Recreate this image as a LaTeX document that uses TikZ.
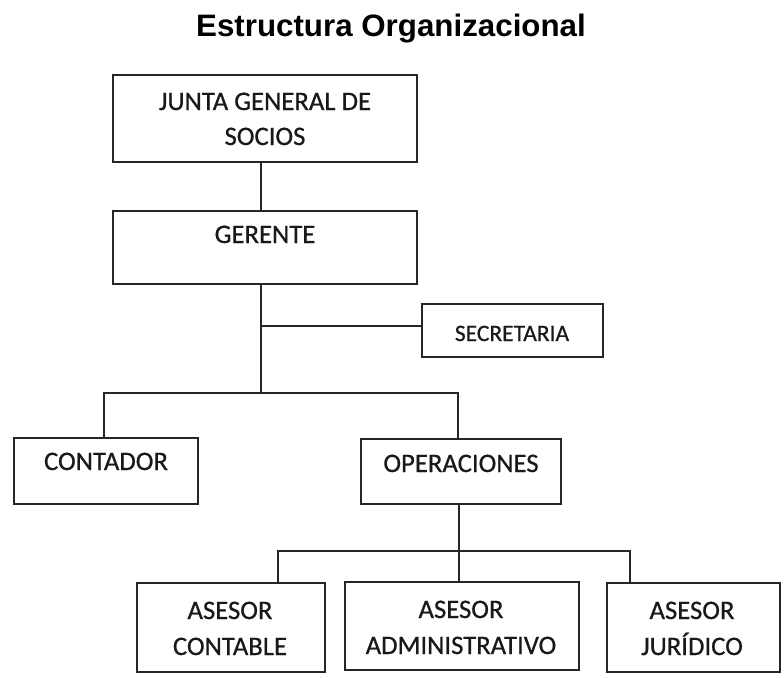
\documentclass[tikz,border=0pt]{standalone}
\usepackage{fontspec}
\usepackage{graphicx}
\setmainfont{Carlito}[RawFeature={embolden=0.7}]
\newfontfamily\titlefont{Liberation Sans}
\begin{document}
\begin{tikzpicture}[x=1pt,y=-1pt,
  box/.style={draw=black!85, line width=2pt, inner sep=0pt},
  lbl/.style={anchor=base, inner sep=0pt, font=\fontsize{26.7}{32}\selectfont, text=black!90},
  small/.style={font=\fontsize{23.5}{28}\selectfont},
  conn/.style={draw=black!85, line width=2pt},
]
\useasboundingbox (0,0) rectangle (784,677);
% title
\node[anchor=base, inner sep=0pt] (title) at (391,37)
  {\titlefont\bfseries\fontsize{31}{36}\selectfont\scalebox{1.01}[1]{Estructura Organizacional}};
% boxes
\node[box, minimum width=304, minimum height=87] (junta) at (265,118.5) {};
\node[box, minimum width=304, minimum height=73] (gerente) at (265,247.5) {};
\node[box, minimum width=181, minimum height=53] (secretaria) at (512.5,330.5) {};
\node[box, minimum width=184, minimum height=66] (contador) at (106,471) {};
\node[box, minimum width=200, minimum height=65] (operaciones) at (461,471.5) {};
\node[box, minimum width=188, minimum height=89] (contable) at (231,627.5) {};
\node[box, minimum width=234, minimum height=88] (admin) at (462,626) {};
\node[box, minimum width=173, minimum height=89] (juridico) at (693.5,627.5) {};
% labels
\node[lbl] (t1) at (265,110) {JUNTA GENERAL DE};
\node[lbl] (t2) at (265,145) {SOCIOS};
\node[lbl] (t3) at (265,243) {GERENTE};
\node[lbl, small] (t4) at (512,341) {SECRETARIA};
\node[lbl] (t5) at (106,470) {CONTADOR};
\node[lbl] (t6) at (461,472) {OPERACIONES};
\node[lbl] (t7) at (230,619) {ASESOR};
\node[lbl] (t8) at (230,655) {CONTABLE};
\node[lbl] (t9) at (461,618) {ASESOR};
\node[lbl] (t10) at (461,654) {ADMINISTRATIVO};
\node[lbl] (t11) at (692,619) {ASESOR};
\node[lbl] (t12) at (692,655) {JURÍDICO};
% connector coordinates
\coordinate (mx) at (261,0);
\coordinate (sj) at (261,326);
\coordinate (hub) at (261,393);
\coordinate (hl) at (104,393);
\coordinate (hr) at (458,393);
\coordinate (ov) at (459,551);
\coordinate (ll) at (278,551);
\coordinate (lr) at (630,551);
% connectors
\draw[conn] (junta.south -| mx) -- (gerente.north -| mx);
\draw[conn] (gerente.south -| mx) -- (hub);
\draw[conn] (sj) -- (sj -| secretaria.west);
\draw[conn] (contador.north -| hl) -- (hl) -- (hr) -- (operaciones.north -| hr);
\draw[conn] (operaciones.south -| ov) -- (admin.north -| ov);
\draw[conn] (contable.north -| ll) -- (ll) -- (lr) -- (juridico.north -| lr);
\end{tikzpicture}
\end{document}
